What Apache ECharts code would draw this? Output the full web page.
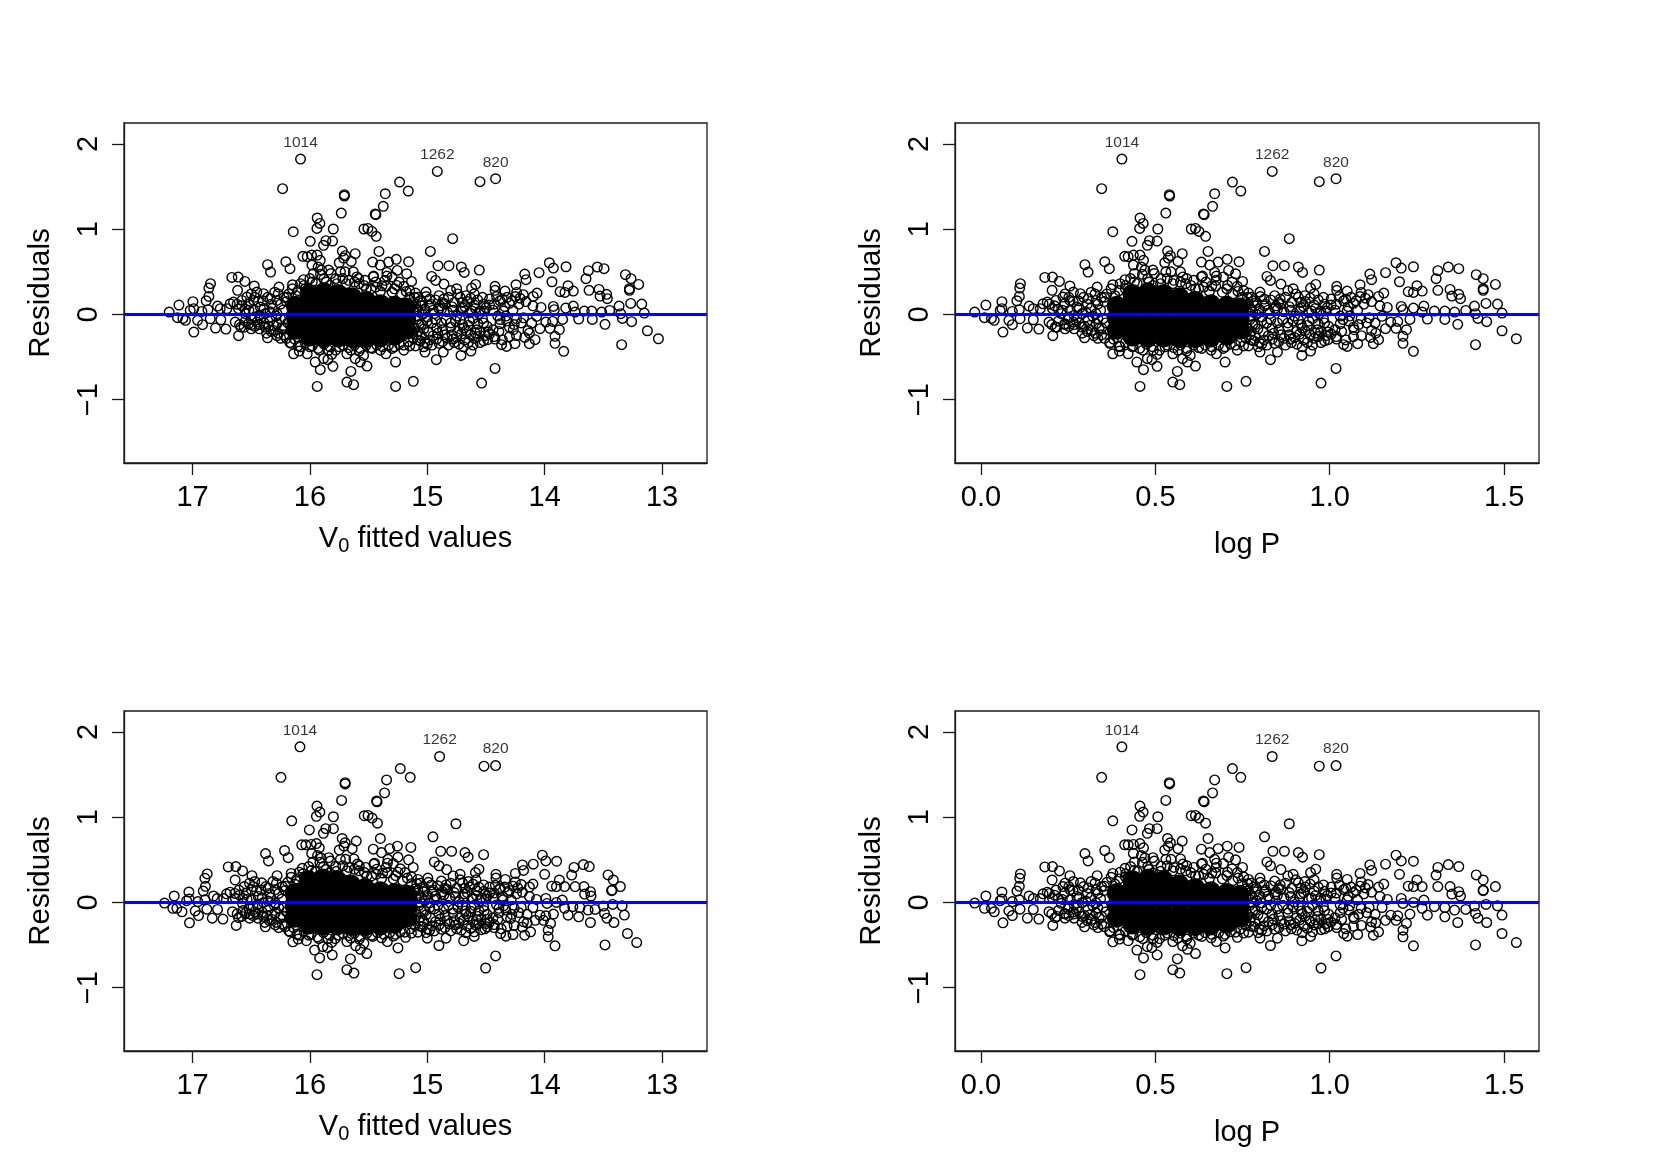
<!DOCTYPE html>
<html>
<head>
<meta charset="utf-8">
<script src="https://cdn.jsdelivr.net/npm/echarts@6/dist/echarts.min.js"></script>
<style>html,body{margin:0;padding:0;background:#fff}#c{width:1661px;height:1175px}</style>
</head>
<body>
<div id="c"></div>
<script>
// Readings per star, same order in all five arrays.
const v0A = [
16.08,16.233,15.707,15.707,15.358,15.733,15.375,15.443,15.438,15.236,
15.938,15.915,15.94,16.142,15.801,15.54,15.506,15.472,15.435,15.997,
15.864,15.807,15.884,15.412,15.724,15.699,15.614,15.713,16.06,16.023,
15.986,15.938,15.912,15.983,15.75,15.648,15.466,15.401,15.33,15.264,
15.256,16.361,16.335,16.205,16.17,15.457,15.344,15.344,15.386,16.054,
16.264,16.148,16.665,16.611,16.554,16.474,16.616,16.847,16.861,16.861,
16.884,17.116,16.997,17.199,17.128,17.082,17.06,17.02,16.99,16.92,
16.869,16.787,16.764,16.679,16.651,16.707,16.957,16.915,16.989,16.849,
16.759,16.804,16.716,16.608,16.361,16.636,16.588,16.523,16.452,16.551,
16.48,16.537,16.452,16.395,16.338,16.281,16.48,16.423,16.523,16.58,
16.608,16.281,16.38,16.38,16.31,16.28,16.338,16.5,16.42,16.32,
16.139,16.091,16.023,15.955,15.912,15.938,15.884,15.847,15.804,15.813,
15.685,15.628,15.651,15.685,15.614,15.571,15.543,15.514,15.352,15.27,
15.27,14.915,15.162,14.551,14.418,14.784,14.974,15.159,14.909,14.815,
14.71,14.685,14.557,14.963,14.929,15.176,15.134,14.858,14.75,14.588,
14.622,15.011,14.423,14.423,14.338,14.244,14.17,14.159,14.239,14.182,
14.097,14.065,14.048,13.96,13.926,13.818,13.938,13.869,13.827,13.801,
13.756,13.628,13.648,13.551,13.494,13.622,13.537,13.528,13.472,13.466,
13.312,13.264,13.199,13.278,13.278,13.267,13.173,13.366,13.446,13.514,
13.599,13.662,13.756,13.741,13.821,13.926,13.918,14.031,13.151,13.352,
13.338,13.259,13.125,13.031,13.344,13.486,13.594,13.71,13.847,13.932,
13.99,14.04,13.955,13.875,13.912,13.912,13.838,14.082,14.131,14.142,
14.267,14.253,14.324,14.367,14.423,14.486,14.48,14.381,14.324,14.239,
14.111,14.068,14.423,14.537,15.119,14.923,14.864,15.02,14.713,14.628,
15.1,14.98,14.9,14.85,14.8,14.72,14.66,14.6,14.52,14.47,
14.38,14.3,14.22,14.16,14.1,15.05,14.95,14.88,14.78,14.7,
14.62,14.55,14.44,14.35,14.27,15.0,14.92,14.85,14.8,14.74,
14.68,14.64,14.58,14.52,14.44,14.98,15.05,14.9,14.77,14.7,
14.6,14.55,15.1,15.03,15.12,15.93,15.9,15.84,15.74,15.7,
15.63,15.585,15.53,15.69,15.3,15.24,15.44,15.36,15.52,15.2,
15.28,15.15,16.1,16.05,15.98,15.88,15.78,16.17,16.1,16.0,
15.92,15.84,15.75,15.65,15.58,15.47,15.4,15.3,15.2,15.15,
15.08,15.04,15.01,14.97,14.93,14.89,14.86,14.82,14.77,14.74,
14.7,14.67,14.63,14.6,14.57,14.53,14.5,15.07,15.02,14.98,
14.94,14.9,14.87,14.83,14.79,14.75,14.71,14.68,14.64,14.59,
14.56,14.51,14.47,15.09,15.05,15.0,14.96,14.93,14.88,14.84,
14.8,14.76,14.72,14.69,14.65,14.61,14.57,14.53,14.49,15.08,
15.03,14.99,14.95,14.91,14.87,14.83,14.79,14.75,14.71,14.67,
14.63,14.59,14.55,14.51,14.47,15.06,15.0,14.96,14.92,14.87,
14.82,14.78,14.73,14.69,14.65,14.61,14.57,14.52,14.43,14.39,
14.41,14.36,14.32,14.28,14.25,14.21,14.33,14.38,14.3,14.26,
14.2,14.18,14.43,14.34,14.4,14.3,14.24,14.17,14.13,14.36,
16.25,16.27,16.22,16.3,16.33,16.36,16.4,16.44,16.47,16.5,
16.55,16.58,16.62,16.25,16.29,16.34,16.39,16.43,16.47,16.52,
16.24,16.27,16.31,16.35,16.39,16.43,16.47,16.5,16.55,16.6,
16.28,16.33,16.37,16.43,16.5,16.56,16.25,16.22,16.2,16.19,
16.18,16.15,16.12,16.08,16.04,16.0,15.95,15.91,15.86,15.82,
15.77,15.72,15.67,15.62,15.58,15.54,15.48,15.44,15.4,15.35,
15.3,15.26,15.22,15.18,15.15,15.11,15.97,15.83,15.6,15.46,
16.2,16.16,16.13,16.08,16.04,15.98,15.93,15.88,15.83,15.78,
15.72,15.67,15.62,15.57,15.52,15.48,15.43,15.38,15.33,15.28,
15.24,15.2,15.16,15.12,15.08,15.02,16.22,16.21,16.23,16.2,
15.1,15.09,15.08,15.07,15.12,15.11,15.09,15.06,15.04,15.13];
const resA = [
1.823,1.475,1.405,1.389,1.416,1.189,1.268,1.178,1.17,1.553,
1.131,1.068,1.009,.97,1.002,1.002,1.009,.974,.916,.857,
.865,.861,.81,.739,.743,.689,.712,.661,.681,.677,
.696,.696,.634,.579,.606,.622,.614,.579,.614,.646,
.516,.583,.497,.618,.536,.45,.493,.45,.336,.407,
.321,.348,.434,.438,.387,.333,.282,.36,.309,.211,
.16,.11,.149,.027,-.039,-.047,-.07,.047,.067,.035,
.055,.098,.067,.125,.145,.067,-.07,-.121,-.207,-.051,
-.063,-.16,-.172,-.25,-.274,-.09,-.149,-.11,-.09,.008,
.164,.203,.262,.243,.184,.164,.047,.086,.125,.164,
.067,.008,.01,-.149,-.188,-.11,-.07,-.05,-.04,.07,
-.462,-.43,-.462,-.559,-.649,-.845,-.52,-.532,-.61,-.469,
-.794,-.825,-.669,-.462,-.52,-.559,-.481,-.606,-.462,-.559,
-.845,1.678,1.448,1.557,1.592,.888,.739,.618,.571,.571,
.556,.493,.52,.446,.399,.477,.387,.356,.301,.352,
.309,.262,.329,.282,.274,.348,.473,.407,.258,.231,
.211,.25,.489,.606,.544,.559,.383,.266,.258,.336,
.274,.513,.419,.556,.536,.282,.293,.215,.235,.184,
.466,.419,.352,.301,.282,.129,.121,.098,.047,.027,
.039,.039,.098,.027,.074,.094,.055,.082,.016,.008,
-.047,-.086,-.192,-.286,-.356,-.117,-.059,-.055,-.059,-.082,
-.09,-.168,-.164,-.18,-.258,-.34,-.434,-.297,-.344,-.188,
-.18,-.344,-.376,-.356,-.29,-.297,-.207,-.11,-.078,-.051,
-.102,-.023,-.634,-.806,-.786,-.532,-.442,-.442,-.481,-.43,
.25,.18,.22,.12,.28,.2,.15,.24,.12,.18,
.16,.13,.12,.15,.1,.1,.05,.06,.05,.08,
.04,.04,.05,.04,.05,-.08,-.16,-.24,-.1,-.2,
-.3,-.08,-.18,-.1,-.18,-.3,-.25,-.34,-.33,-.12,
-.28,-.33,-.37,-.38,.14,.555,.52,.52,.5,.5,
.5,.42,.4,.36,.44,.38,.38,.4,.3,.33,
.3,.28,.28,.34,.38,.42,.42,-.33,-.37,-.38,
-.42,-.42,-.38,-.42,-.43,-.4,-.42,-.4,-.42,-.37,
.2,.14,.21,.12,.17,.1,.18,.2,.14,.24,
.14,.22,.19,.11,.17,.2,.08,.03,.06,.1,
.01,.07,.14,.03,.09,-.02,.04,.09,.02,.07,
.01,.04,.11,-.06,-.12,-.03,-.1,-.06,-.1,-.06,
-.15,-.08,-.06,-.16,-.13,-.05,-.11,-.05,-.14,-.2,
-.17,-.21,-.25,-.22,-.18,-.28,-.24,-.27,-.23,-.19,
-.24,-.22,-.2,-.25,-.23,-.31,-.35,-.36,-.29,-.32,
-.36,-.29,-.35,-.38,-.33,-.36,-.26,-.31,-.26,-.2,
.21,.18,.2,.16,.21,.19,-.02,-.06,-.15,-.12,
-.1,-.04,.12,.09,-.02,-.26,-.25,-.27,-.22,-.3,
.12,.24,.2,.26,.12,.2,.16,.15,.2,.24,
.06,.1,.12,-.05,-.02,.03,.07,-.01,-.03,.05,
-.16,-.22,-.13,-.14,-.1,-.12,-.14,-.17,-.08,-.12,
-.25,-.2,-.22,-.17,-.12,-.15,-.28,-.24,.15,-.1,
.24,.3,.22,.36,.3,.42,.36,.47,.38,.48,
.36,.42,.4,.38,.36,.34,.3,.32,.27,.33,
.26,.34,.24,.27,.2,.2,.48,.34,.44,.44,
-.28,-.34,-.29,-.38,-.33,-.37,-.4,-.35,-.38,-.42,
-.36,-.39,-.36,-.4,-.36,-.39,-.36,-.38,-.36,-.38,
-.35,-.36,-.32,-.28,-.3,-.33,-.16,-.05,.05,.2,
.12,.06,-.02,-.12,.04,-.16,-.24,.16,0,-.22];
const logP = [
.404,.346,.54,.541,.67,.53,.664,.638,.64,.721,
.456,.465,.455,.378,.507,.603,.615,.625,.644,.433,
.483,.505,.477,.651,.535,.543,.577,.537,.412,.422,
.437,.456,.466,.437,.527,.565,.632,.656,.68,.706,
.71,.298,.307,.355,.368,.635,.67,.675,.662,.413,
.333,.378,.183,.205,.225,.255,.204,.113,.111,.11,
.103,.014,.06,-.018,.01,.03,.038,.055,.06,.09,
.11,.138,.15,.178,.19,.17,.08,.09,.063,.112,
.15,.133,.166,.206,.297,.195,.213,.24,.265,.23,
.255,.235,.265,.285,.308,.33,.255,.275,.24,.215,
.205,.33,.29,.29,.317,.33,.307,.25,.275,.315,
.378,.397,.422,.447,.466,.456,.477,.49,.505,.505,
.55,.57,.563,.55,.578,.592,.6,.615,.675,.7,
.705,.835,.745,.97,1.018,.884,.813,.74,.837,.87,
.91,.922,.97,.82,.83,.73,.75,.86,.895,.96,
.945,.8,1.02,1.02,1.05,1.087,1.115,1.12,1.09,1.11,
1.14,1.155,1.16,1.19,1.205,1.24,1.2,1.225,1.24,1.25,
1.265,1.31,1.305,1.34,1.37,1.31,1.345,1.35,1.37,1.375,
1.42,1.44,1.475,1.44,1.44,1.448,1.481,1.415,1.39,1.358,
1.33,1.3,1.27,1.265,1.24,1.205,1.21,1.165,1.494,1.418,
1.425,1.45,1.494,1.535,1.418,1.367,1.33,1.28,1.23,1.195,
1.175,1.16,1.19,1.22,1.21,1.21,1.24,1.14,1.125,1.12,
1.07,1.08,1.05,1.04,1.02,.995,.995,1.03,1.055,1.09,
1.13,1.15,1.018,.975,.76,.83,.85,.8,.92,.945,
.767,.812,.842,.86,.88,.91,.93,.955,.985,1.004,
1.04,1.068,1.098,1.12,1.144,.786,.823,.85,.888,.918,
.948,.974,1.015,1.05,1.08,.805,.835,.86,.88,.905,
.925,.94,.965,.985,1.015,.812,.786,.842,.89,.918,
.955,.975,.767,.795,.76,.46,.47,.493,.53,.545,
.572,.59,.61,.55,.695,.72,.645,.674,.615,.735,
.705,.753,.396,.415,.44,.478,.516,.37,.396,.434,
.464,.494,.528,.565,.59,.633,.66,.695,.735,.753,
.775,.79,.801,.816,.831,.846,.858,.873,.891,.903,
.918,.929,.944,.955,.967,.982,.993,.779,.798,.813,
.828,.843,.854,.869,.884,.899,.914,.925,.94,.959,
.97,.989,1.004,.771,.786,.805,.82,.831,.85,.865,
.88,.895,.91,.921,.936,.951,.967,.982,.997,.775,
.794,.809,.824,.839,.854,.869,.884,.899,.914,.929,
.944,.959,.974,.989,1.004,.782,.805,.82,.835,.854,
.873,.888,.906,.921,.936,.951,.967,.985,1.019,1.034,
1.027,1.046,1.061,1.076,1.087,1.102,1.057,1.038,1.068,1.083,
1.106,1.113,1.019,1.053,1.03,1.068,1.091,1.117,1.132,1.046,
.335,.327,.346,.316,.305,.294,.279,.264,.252,.241,
.222,.211,.196,.335,.32,.301,.282,.267,.252,.233,
.339,.327,.312,.297,.282,.267,.252,.241,.222,.203,
.324,.305,.29,.267,.241,.218,.335,.346,.354,.358,
.361,.373,.384,.399,.414,.429,.448,.463,.482,.497,
.515,.534,.553,.572,.587,.602,.624,.639,.655,.673,
.692,.707,.722,.737,.749,.764,.44,.493,.579,.632,
.354,.369,.38,.399,.414,.436,.455,.474,.493,.512,
.534,.553,.572,.59,.609,.624,.643,.662,.681,.7,
.715,.73,.745,.76,.775,.798,.346,.35,.343,.354,
.767,.771,.775,.779,.76,.764,.771,.782,.79,.756];
const v0B = [
16.085,16.247,15.7,15.7,15.347,15.73,15.364,15.432,15.428,15.23,
15.94,15.915,15.945,16.155,15.8,15.537,15.505,15.47,15.425,16.005,
15.865,15.8,15.885,15.4,15.725,15.7,15.605,15.71,16.07,16.035,
15.99,15.945,15.92,15.985,15.75,15.64,15.46,15.39,15.32,15.255,
15.25,16.378,16.353,16.216,16.185,15.45,15.335,15.34,15.38,16.065,
16.28,16.16,16.696,16.631,16.574,16.494,16.637,16.875,16.895,16.89,
16.909,17.156,17.031,17.239,17.168,17.134,17.09,17.05,17.03,16.955,
16.895,16.821,16.79,16.71,16.68,16.735,16.977,16.949,17.026,16.878,
16.787,16.832,16.741,16.628,16.38,16.66,16.608,16.55,16.47,16.575,
16.5,16.56,16.47,16.41,16.355,16.295,16.5,16.44,16.545,16.605,
16.635,16.295,16.395,16.395,16.325,16.295,16.355,16.52,16.44,16.335,
16.145,16.1,16.03,15.96,15.917,15.94,15.89,15.85,15.81,15.815,
15.685,15.625,15.655,15.685,15.61,15.57,15.54,15.515,15.34,15.25,
15.24,14.895,15.145,14.517,14.418,14.756,14.952,15.14,14.886,14.793,
14.679,14.652,14.52,14.94,14.9,15.16,15.12,14.835,14.72,14.56,
14.59,14.995,14.415,14.415,14.335,14.25,14.19,14.18,14.25,14.2,
14.13,14.1,14.097,14.02,13.99,13.898,14.0,13.94,13.9,13.875,
13.83,13.75,13.77,13.67,13.62,13.74,13.665,13.66,13.61,13.605,
13.46,13.415,13.355,13.425,13.43,13.42,13.34,13.5,13.57,13.63,
13.7,13.76,13.85,13.83,13.9,13.99,13.98,14.07,13.321,13.49,
13.47,13.41,13.295,13.216,13.486,13.61,13.71,13.8,13.925,13.99,
14.04,14.08,14.01,13.95,13.97,13.97,13.912,14.12,14.17,14.18,
14.29,14.27,14.33,14.375,14.43,14.49,14.49,14.39,14.33,14.26,
14.15,14.1,14.418,14.503,15.099,14.901,14.84,15.0,14.69,14.6,
15.08,14.965,14.88,14.83,14.78,14.7,14.64,14.585,14.52,14.47,
14.385,14.31,14.24,14.19,14.13,15.03,14.93,14.86,14.76,14.68,
14.61,14.54,14.44,14.355,14.285,14.98,14.9,14.83,14.78,14.72,
14.66,14.625,14.57,14.515,14.44,14.96,15.03,14.88,14.75,14.68,
14.59,14.54,15.08,15.01,15.1,15.935,15.905,15.84,15.74,15.695,
15.625,15.58,15.525,15.685,15.29,15.23,15.43,15.35,15.515,15.19,
15.27,15.135,16.11,16.06,15.985,15.885,15.78,16.18,16.11,16.01,
15.925,15.845,15.755,15.65,15.58,15.465,15.39,15.29,15.185,15.135,
15.06,15.02,14.99,14.95,14.91,14.87,14.84,14.8,14.75,14.72,
14.68,14.65,14.61,14.58,14.56,14.52,14.49,15.05,15.0,14.96,
14.92,14.88,14.85,14.81,14.77,14.73,14.69,14.66,14.62,14.58,
14.55,14.5,14.47,15.07,15.03,14.98,14.94,14.91,14.86,14.82,
14.78,14.74,14.7,14.67,14.63,14.6,14.56,14.52,14.49,15.06,
15.01,14.97,14.93,14.89,14.85,14.81,14.77,14.73,14.69,14.65,
14.61,14.58,14.54,14.5,14.47,15.04,14.98,14.94,14.9,14.85,
14.8,14.76,14.71,14.67,14.63,14.6,14.56,14.51,14.43,14.4,
14.42,14.38,14.34,14.3,14.27,14.23,14.35,14.39,14.32,14.28,
14.22,14.2,14.43,14.36,14.41,14.32,14.26,14.19,14.15,14.37,
16.265,16.285,16.235,16.315,16.345,16.375,16.415,16.455,16.485,16.515,
16.57,16.6,16.64,16.265,16.305,16.355,16.405,16.445,16.485,16.535,
16.255,16.285,16.325,16.365,16.405,16.445,16.485,16.515,16.57,16.62,
16.295,16.345,16.385,16.445,16.515,16.58,16.265,16.235,16.21,16.2,
16.19,16.16,16.13,16.09,16.05,16.01,15.955,15.915,15.865,15.825,
15.775,15.72,15.67,15.62,15.58,15.535,15.475,15.435,15.39,15.34,
15.29,15.25,15.21,15.17,15.135,15.09,15.975,15.835,15.595,15.455,
16.21,16.17,16.14,16.09,16.05,15.99,15.935,15.885,15.835,15.785,
15.72,15.67,15.62,15.57,15.515,15.475,15.425,15.37,15.32,15.27,
15.23,15.19,15.145,15.105,15.06,15.0,16.23,16.22,16.24,16.21,
15.08,15.07,15.06,15.05,15.1,15.09,15.07,15.04,15.02,15.11];
const resB = [
1.826,1.468,1.405,1.39,1.437,1.197,1.284,1.19,1.18,1.57,
1.13,1.06,1.01,.957,1.005,1.017,1.02,.99,.93,.85,
.865,.865,.81,.75,.75,.7,.72,.66,.675,.675,
.68,.69,.64,.575,.615,.63,.625,.585,.63,.66,
.53,.573,.486,.609,.525,.46,.505,.46,.345,.4,
.314,.34,.416,.42,.369,.314,.263,.334,.283,.188,
.133,.075,.122,-.008,-.07,-.07,-.11,.02,.04,.01,
.03,.075,.045,.1,.12,.045,-.1,-.155,-.24,-.08,
-.082,-.185,-.196,-.27,-.287,-.11,-.18,-.13,-.11,-.01,
.15,.185,.245,.23,.17,.15,.03,.07,.11,.145,
.05,-.005,0,-.165,-.2,-.125,-.085,-.07,-.06,.055,
-.463,-.43,-.45,-.56,-.652,-.848,-.52,-.53,-.616,-.47,
-.79,-.83,-.663,-.46,-.51,-.55,-.48,-.6,-.46,-.534,
-.836,1.712,1.468,1.598,1.606,.923,.77,.645,.6,.6,
.585,.53,.56,.475,.43,.5,.41,.385,.33,.39,
.35,.285,.33,.285,.27,.34,.44,.375,.24,.21,
.18,.215,.448,.554,.487,.483,.33,.19,.185,.263,
.185,.41,.32,.444,.42,.185,.185,.098,.126,.075,
.322,.263,.185,.145,.137,-.024,-.04,-.043,-.082,-.09,
-.06,-.05,.027,-.07,0,.047,-.012,.035,-.149,-.13,
-.185,-.236,-.365,-.471,-.499,-.236,-.17,-.15,-.137,-.157,
-.15,-.21,-.21,-.247,-.326,-.404,-.51,-.345,-.385,-.228,
-.19,-.377,-.397,-.365,-.295,-.287,-.2,-.12,-.09,-.07,
-.14,-.06,-.628,-.77,-.766,-.506,-.42,-.42,-.45,-.4,
.27,.205,.25,.15,.31,.23,.18,.265,.13,.18,
.15,.115,.1,.12,.07,.125,.075,.085,.07,.1,
.05,.05,.05,.03,.03,-.06,-.135,-.215,-.08,-.18,
-.275,-.065,-.165,-.095,-.18,-.275,-.225,-.315,-.31,-.1,
-.265,-.32,-.35,-.355,.16,.55,.52,.525,.505,.505,
.51,.43,.41,.37,.455,.395,.39,.41,.31,.35,
.315,.3,.275,.335,.375,.42,.425,-.335,-.375,-.385,
-.425,-.425,-.385,-.42,-.43,-.4,-.415,-.395,-.41,-.36,
.225,.165,.235,.145,.195,.125,.205,.225,.165,.265,
.165,.245,.215,.135,.18,.205,.08,.055,.085,.125,
.035,.095,.165,.055,.115,.005,.065,.115,.045,.08,
.02,.04,.11,-.035,-.095,-.005,-.075,-.035,-.075,-.035,
-.125,-.055,-.035,-.135,-.105,-.035,-.1,-.05,-.14,-.175,
-.145,-.185,-.225,-.195,-.155,-.255,-.215,-.245,-.205,-.165,
-.22,-.205,-.195,-.25,-.23,-.285,-.325,-.335,-.265,-.295,
-.335,-.265,-.325,-.355,-.305,-.345,-.25,-.31,-.26,-.2,
.2,.165,.18,.14,.19,.17,-.04,-.07,-.17,-.14,
-.12,-.06,.11,.07,-.03,-.28,-.27,-.29,-.24,-.31,
.105,.225,.185,.245,.105,.185,.145,.135,.185,.225,
.045,.085,.105,-.065,-.035,.015,.055,-.025,-.045,.035,
-.175,-.235,-.145,-.155,-.115,-.135,-.155,-.185,-.095,-.135,
-.265,-.215,-.235,-.185,-.135,-.165,-.295,-.255,.14,-.11,
.235,.295,.215,.355,.3,.42,.36,.47,.385,.485,
.365,.43,.41,.39,.37,.35,.31,.33,.28,.345,
.275,.355,.255,.285,.22,.22,.475,.345,.45,.45,
-.285,-.345,-.295,-.385,-.335,-.375,-.405,-.355,-.385,-.425,
-.36,-.39,-.36,-.4,-.36,-.385,-.355,-.375,-.355,-.375,
-.345,-.35,-.31,-.27,-.28,-.31,-.165,-.055,.04,.19,
.14,.08,0,-.1,.06,-.14,-.22,.18,.02,-.2];

// The solid core of the cloud, where single rings cannot be told apart.
const coreV0A = [16.12,16.12,16.12,16,16,16,16,16,15.88,15.88,15.88,15.88,15.88,15.76,15.76,15.76,15.76,15.76,15.64,15.64,15.64,15.64,15.64,15.52,15.52,15.52,15.52,15.52,15.4,15.4,15.4,15.4,15.28,15.28,15.28,15.28,15.18,15.18,15.18];
const coreResA = [-.18,-.04,.1,-.26,-.12,.02,.16,.24,-.27,-.13,.01,.15,.26,-.27,-.13,.01,.15,.24,-.28,-.14,0,.12,.2,-.28,-.14,0,.12,.16,-.27,-.13,0,.12,-.25,-.12,0,.1,-.18,-.05,.08];
const coreLogP = [.389,.389,.389,.434,.434,.434,.434,.434,.479,.479,.479,.479,.479,.524,.524,.524,.524,.524,.569,.569,.569,.569,.569,.614,.614,.614,.614,.614,.659,.659,.659,.659,.705,.705,.705,.705,.742,.742,.742];
const coreV0B = [16.13,16.13,16.13,16.01,16.01,16.01,16.01,16.01,15.89,15.89,15.89,15.89,15.89,15.77,15.77,15.77,15.77,15.77,15.65,15.65,15.65,15.65,15.65,15.53,15.53,15.53,15.53,15.53,15.4,15.4,15.4,15.4,15.28,15.28,15.28,15.28,15.17,15.17,15.17];
const coreResB = [-.18,-.04,.11,-.26,-.12,.03,.17,.26,-.27,-.13,.02,.16,.28,-.27,-.13,.02,.16,.26,-.28,-.14,.01,.13,.21,-.28,-.14,.01,.13,.17,-.27,-.13,.01,.13,-.25,-.12,.01,.11,-.18,-.05,.09];

const labelIndex = [0, 131, 134];
const labelText = ['1014', '1262', '820'];
const v0Ticks = [17, 16, 15, 14, 13];
const logPTicks = [0, 0.5, 1, 1.5];
const resTicks = [-1, 0, 1, 2];
const resRange = [-1.744, 2.246];
const v0Range = [12.617, 17.584];
const logPRange = [-0.0745, 1.6];
const zeroLine = [0];
const v0Title = '{t|V}{s|0}{t| fitted values}';
const logPTitle = 'log P';
const resTitle = 'Residuals';

const FONT = '"Liberation Sans", Arial, sans-serif';
const SIZE = 29;
const panels = [
  {left: 124, top: 123, w: 583, xs: v0A, ys: resA, cx: coreV0A, cy: coreResA, kind: 'v0'},
  {left: 955, top: 123, w: 584, xs: logP, ys: resA, cx: coreLogP, cy: coreResA, kind: 'logP'},
  {left: 124, top: 711, w: 583, xs: v0B, ys: resB, cx: coreV0B, cy: coreResB, kind: 'v0'},
  {left: 955, top: 711, w: 584, xs: logP, ys: resB, cx: coreLogP, cy: coreResB, kind: 'logP'}
];
const line = {color: '#1a1a1a', width: 1.3};
const grid = [], xAxis = [], yAxis = [], series = [];
panels.forEach((p, i) => {
  const isV = p.kind === 'v0';
  grid.push({left: p.left, top: p.top, width: p.w, height: 340, show: true, borderColor: '#1a1a1a', borderWidth: 1.3, backgroundColor: '#fff', containLabel: false});
  xAxis.push({
    gridIndex: i, type: 'value', inverse: isV,
    min: isV ? v0Range[0] : logPRange[0], max: isV ? v0Range[1] : logPRange[1],
    splitLine: {show: false}, axisLine: {show: true, onZero: false, lineStyle: line},
    axisTick: {show: true, length: 12, lineStyle: line, customValues: isV ? v0Ticks : logPTicks},
    axisLabel: {show: true, margin: 20, fontFamily: FONT, fontSize: SIZE, color: '#000', hideOverlap: false, showMinLabel: true, showMaxLabel: true,
      customValues: isV ? v0Ticks : logPTicks,
      formatter: v => isV ? String(v) : Number(v).toFixed(1)},
    name: isV ? v0Title : logPTitle, nameLocation: 'middle', nameGap: isV ? 59 : 67,
    nameTextStyle: isV
      ? {rich: {t: {fontFamily: FONT, fontSize: SIZE, color: '#000'}, s: {fontFamily: FONT, fontSize: 20, color: '#000', verticalAlign: 'bottom', padding: [14, 0, 0, 0]}}}
      : {fontFamily: FONT, fontSize: SIZE, color: '#000'}
  });
  yAxis.push({
    gridIndex: i, type: 'value', min: resRange[0], max: resRange[1],
    splitLine: {show: false}, axisLine: {show: true, onZero: false, lineStyle: line},
    axisTick: {show: true, length: 12, lineStyle: line, customValues: resTicks},
    axisLabel: {show: true, rotate: 90, margin: 21, fontFamily: FONT, fontSize: SIZE, color: '#000', customValues: resTicks,
      formatter: v => String(v).replace('-', '\u2212')},
    name: resTitle, nameLocation: 'middle', nameRotate: 90, nameGap: 68,
    nameTextStyle: {fontFamily: FONT, fontSize: 29.5, color: '#000'}
  });
  series.push({
    type: 'scatter', xAxisIndex: i, yAxisIndex: i, silent: true, animation: false, symbol: 'circle', symbolSize: 20, z: 2,
    itemStyle: {color: '#000', opacity: 1},
    data: p.cx.map((x, k) => [x, p.cy[k]])
  });
  series.push({
    type: 'scatter', xAxisIndex: i, yAxisIndex: i, silent: true, animation: false, symbol: 'circle', symbolSize: 9.6, z: 3, large: false,
    itemStyle: {color: 'rgba(0,0,0,0)', borderColor: '#000', borderWidth: 1.4, opacity: 1},
    data: p.xs.map((x, k) => [x, p.ys[k]]),
    markLine: {silent: true, symbol: 'none', animation: false, z: 5, label: {show: false},
      lineStyle: {color: '#0000ff', width: 2.8, type: 'solid'},
      data: zeroLine.map(v => ({yAxis: v}))}
  });
  series.push({
    type: 'scatter', xAxisIndex: i, yAxisIndex: i, silent: true, animation: false, symbolSize: 1, z: 6,
    itemStyle: {color: 'rgba(0,0,0,0)'},
    label: {show: true, position: 'top', distance: 8, fontFamily: FONT, fontSize: 15.5, color: '#000', formatter: q => q.data[2]},
    data: labelIndex.map((k, n) => [p.xs[k], p.ys[k], labelText[n]])
  });
});
const chart = echarts.init(document.getElementById('c'), null, {renderer: 'canvas'});
chart.setOption({animation: false, backgroundColor: '#fff', grid, xAxis, yAxis, series});
</script>
</body>
</html>
